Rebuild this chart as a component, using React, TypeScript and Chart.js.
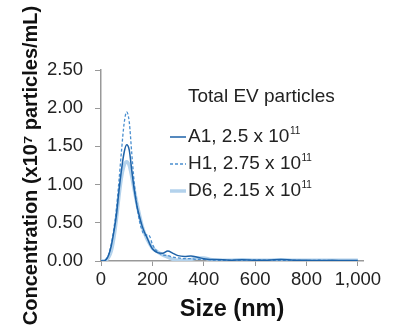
import React, { useEffect, useRef } from "react";
import { Chart, registerables } from "chart.js";

Chart.register(...registerables);

const sizes = [0, 10, 20, 30, 40, 50, 60, 70, 80, 90, 100, 110, 120, 130, 140, 150, 160, 170, 180, 190, 200, 220, 240, 260, 280, 300, 325, 350, 375, 400, 425, 450, 500, 550, 600, 650, 700, 750, 800, 850, 900, 950, 1000];

const a1Values = [0, 0, 0.02, 0.08, 0.2, 0.38, 0.6, 0.92, 1.2, 1.42, 1.52, 1.45, 1.18, 0.92, 0.72, 0.58, 0.46, 0.37, 0.3, 0.22, 0.16, 0.11, 0.1, 0.13, 0.1, 0.07, 0.06, 0.065, 0.05, 0.03, 0.02, 0.02, 0.01, 0.015, 0.01, 0.01, 0.02, 0.01, 0.01, 0.005, 0.01, 0.005, 0.005];

const h1Values = [0, 0, 0.02, 0.09, 0.22, 0.42, 0.68, 1.05, 1.45, 1.8, 1.95, 1.82, 1.4, 1.0, 0.72, 0.52, 0.4, 0.34, 0.34, 0.32, 0.22, 0.12, 0.08, 0.07, 0.05, 0.04, 0.03, 0.03, 0.02, 0.02, 0.015, 0.01, 0.01, 0.01, 0.015, 0.01, 0.01, 0.01, 0.005, 0.01, 0.005, 0.005, 0.005];

const d6Values = [0, 0, 0.01, 0.05, 0.13, 0.3, 0.55, 0.85, 1.1, 1.25, 1.3, 1.25, 1.1, 0.92, 0.75, 0.6, 0.46, 0.36, 0.28, 0.22, 0.17, 0.12, 0.08, 0.05, 0.02, 0.01, 0.01, 0.02, 0.04, 0.04, 0.02, 0.01, 0.01, 0.015, 0.01, 0.01, 0.015, 0.01, 0.01, 0.01, 0.01, 0.01, 0.01];

const xTicks = [0, 200, 400, 600, 800, 1000];
const yTicks = [0, 0.5, 1.0, 1.5, 2.0, 2.5];

const seriesNames = ["A1, 2.5 x 10", "H1, 2.75 x 10", "D6, 2.15 x 10"];
const seriesExponents = ["11", "11", "11"];
const legendTitle = "Total EV particles";
const xTitle = "Size (nm)";
const yTitle = "Concentration (x10\u2077 particles/mL)";

const colors = ["#1d62a8", "#4a8fd0", "#b3d2ec"];
const widths = [1.5, 1.3, 3.5];
const dashes = [[], [3, 2], []];

const toPoints = (vals: number[]) => sizes.map((s, i) => ({ x: s, y: vals[i] }));

const FONT = "'Liberation Sans Narrow', 'Liberation Sans', sans-serif";

const legendPlugin = {
  id: "customLegend",
  afterDraw(chart: any) {
    const ctx = chart.ctx;
    ctx.save();
    ctx.fillStyle = "#222";
    ctx.textBaseline = "middle";
    ctx.textAlign = "left";
    ctx.font = "19px " + FONT;
    ctx.fillText(legendTitle, 188, 97);
    const rows = [137, 164, 191];
    seriesNames.forEach((name, i) => {
      const y = rows[i];
      ctx.beginPath();
      ctx.strokeStyle = colors[i];
      ctx.lineWidth = widths[i];
      ctx.setLineDash(dashes[i]);
      ctx.moveTo(170, y);
      ctx.lineTo(186, y);
      ctx.stroke();
      ctx.setLineDash([]);
      ctx.font = "19px " + FONT;
      ctx.fillText(name, 188, y);
      const w = ctx.measureText(name).width;
      ctx.font = "10px " + FONT;
      ctx.fillText(seriesExponents[i], 188 + w + 0.5, y - 6);
    });
    ctx.restore();
  },
};

export default function App() {
  const ref = useRef<HTMLCanvasElement | null>(null);
  useEffect(() => {
    if (!ref.current) return;
    const chart = new Chart(ref.current, {
      type: "line",
      data: {
        datasets: [
          { label: "A1", data: toPoints(a1Values), borderColor: colors[0], borderWidth: widths[0], order: 0 },
          { label: "H1", data: toPoints(h1Values), borderColor: colors[1], borderWidth: widths[1], borderDash: dashes[1], order: 1 },
          { label: "D6", data: toPoints(d6Values), borderColor: colors[2], borderWidth: widths[2], order: 2 },
        ] as any,
      },
      options: {
        animation: false,
        responsive: false,
        devicePixelRatio: 1,
        elements: {
          point: { radius: 0 },
          line: { tension: 0.4, cubicInterpolationMode: "monotone", fill: false } as any,
        },
        layout: { padding: { top: 70, right: 33, left: 0, bottom: 0 } },
        plugins: { legend: { display: false }, tooltip: { enabled: false } },
        scales: {
          x: {
            type: "linear",
            min: 0,
            max: 1020,
            afterFit: (s: any) => { s.height = 66; },
            afterBuildTicks: (s: any) => { s.ticks = xTicks.map((v) => ({ value: v })); },
            grid: { drawOnChartArea: false, drawTicks: true, tickLength: 5, color: "#999" },
            border: { color: "#999", width: 1.5 },
            ticks: {
              maxRotation: 0,
              autoSkip: false,
              padding: 3,
              color: "#222",
              font: { family: FONT, size: 18.5 },
              callback: (v: any) => Number(v).toLocaleString("en-US"),
            },
            title: {
              display: true,
              text: xTitle,
              color: "#111",
              padding: { top: 0, bottom: 3 },
              font: { family: FONT, size: 23.5, weight: "bold" },
            },
          },
          y: {
            type: "linear",
            min: 0,
            max: 2.5,
            afterFit: (s: any) => { s.width = 101; },
            afterBuildTicks: (s: any) => { s.ticks = yTicks.map((v) => ({ value: v })); },
            grid: { drawOnChartArea: false, drawTicks: true, tickLength: 6, color: "#999" },
            border: { color: "#999", width: 1.5 },
            ticks: {
              padding: 12,
              autoSkip: false,
              color: "#222",
              font: { family: FONT, size: 18.5 },
              callback: (v: any) => Number(v).toFixed(2),
            },
            title: {
              display: true,
              text: yTitle,
              color: "#111",
              padding: { top: 19, bottom: 0 },
              font: { family: "'Liberation Sans', sans-serif", size: 20, weight: "bold" },
            },
          },
        },
      },
      plugins: [legendPlugin],
    });
    return () => chart.destroy();
  }, []);
  return (
    <div style={{ position: "absolute", left: 0, top: 0, width: 396, height: 327, background: "#fff" }}>
      <canvas ref={ref} width={396} height={327} />
    </div>
  );
}
